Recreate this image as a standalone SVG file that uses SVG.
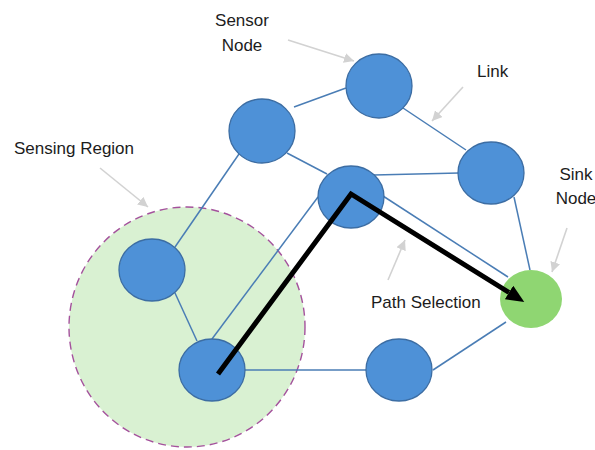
<svg xmlns="http://www.w3.org/2000/svg" width="595" height="450" viewBox="0 0 595 450">
  <defs>
    <style>
      .node { fill: #4e91d7; stroke: #3c6da3; stroke-width: 1.3; }
      .sink { fill: #8fd672; }
      .link { stroke: #4a7db5; stroke-width: 1.5; fill: none; }
      .note { stroke: #d2d2d2; stroke-width: 1.6; fill: none; marker-end: url(#greyHead); }
      .label { font-family: "Liberation Sans", Arial, sans-serif; font-size: 17px; fill: #1c1c1c; }
      .mid { text-anchor: middle; }
    </style>
    <marker id="greyHead" viewBox="0 0 10 10" refX="10" refY="5" markerWidth="10" markerHeight="10" markerUnits="userSpaceOnUse" orient="auto">
      <path d="M0,0 L10,5 L0,10 z" fill="#d2d2d2"/>
    </marker>
    <marker id="blackHead" viewBox="0 0 18 16" refX="0" refY="8" markerWidth="18" markerHeight="16" markerUnits="userSpaceOnUse" orient="auto">
      <path d="M0,0 L18,8 L0,16 z" fill="#000"/>
    </marker>
  </defs>

  <rect width="595" height="450" fill="#ffffff"/>

  <!-- sensing region around the lower-left sensor -->
  <g id="sensing-region">
    <ellipse cx="187" cy="327" rx="118" ry="120" fill="#d9f1d2" stroke="#a4529c" stroke-width="1.4" stroke-dasharray="8,5"/>
  </g>

  <!-- links between nodes -->
  <g id="connectors">
    <line class="link" x1="294" y1="107" x2="346" y2="88"/>
    <line class="link" x1="403" y1="108" x2="466" y2="150"/>
    <line class="link" x1="287" y1="153" x2="327" y2="174"/>
    <line class="link" x1="374" y1="175" x2="459" y2="173"/>
    <line class="link" x1="514" y1="197" x2="530" y2="270"/>
    <line class="link" x1="383" y1="196" x2="508" y2="277"/>
    <line class="link" x1="212" y1="339" x2="318" y2="197"/>
    <line class="link" x1="239" y1="154" x2="175" y2="247"/>
    <line class="link" x1="175" y1="293" x2="197" y2="341"/>
    <line class="link" x1="245" y1="370" x2="366" y2="370"/>
    <line class="link" x1="433" y1="370" x2="506" y2="322"/>
  </g>

  <!-- sensor nodes -->
  <g id="node-1"><ellipse class="node" cx="262" cy="131" rx="33" ry="32"/></g>
  <g id="node-2"><ellipse class="node" cx="379" cy="86" rx="33" ry="32"/></g>
  <g id="node-3"><ellipse class="node" cx="491" cy="173" rx="33" ry="31"/></g>
  <g id="node-4"><ellipse class="node" cx="351" cy="197" rx="33" ry="31"/></g>
  <g id="node-5"><ellipse class="node" cx="152" cy="270" rx="33" ry="31"/></g>
  <g id="node-6"><ellipse class="node" cx="212" cy="370" rx="33" ry="31"/></g>
  <g id="node-7"><ellipse class="node" cx="399" cy="370" rx="33" ry="31"/></g>
  <g id="sink-node"><ellipse class="sink" cx="531" cy="299" rx="31" ry="29"/></g>

  <!-- selected path toward the sink -->
  <g id="path-selection">
    <path d="M218,374 L351,194 L509,292.5" fill="none" stroke="#000" stroke-width="5" stroke-linejoin="miter" marker-end="url(#blackHead)"/>
  </g>

  <!-- callout arrows -->
  <g id="callouts">
    <line class="note" x1="288" y1="40" x2="354" y2="61"/>
    <line class="note" x1="463" y1="87" x2="432" y2="121"/>
    <line class="note" x1="100" y1="168" x2="148" y2="207"/>
    <line class="note" x1="388" y1="280" x2="405" y2="240"/>
    <line class="note" x1="567" y1="228" x2="552" y2="272"/>
  </g>

  <!-- labels -->
  <g id="labels">
    <text class="label mid" x="242" y="26">Sensor</text>
    <text class="label mid" x="242" y="51">Node</text>
    <text class="label" x="477" y="77">Link</text>
    <text class="label" x="14" y="154">Sensing Region</text>
    <text class="label" x="371" y="308">Path Selection</text>
    <text class="label mid" x="576" y="180">Sink</text>
    <text class="label mid" x="576" y="204">Node</text>
  </g>
</svg>
